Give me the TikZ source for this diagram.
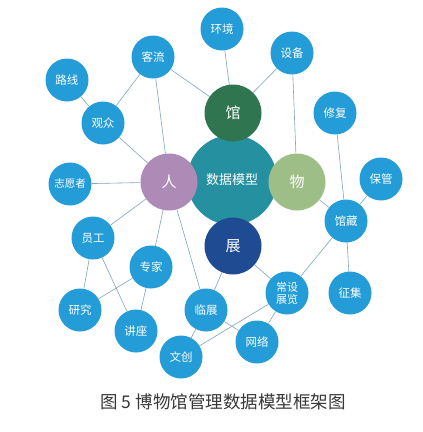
\documentclass[tikz,border=0pt]{standalone}
\usepackage{fontspec}
\usetikzlibrary{backgrounds}
\newfontfamily\cjk{Noto Sans CJK SC}
\definecolor{nodeblue}{HTML}{239CD8}
\definecolor{guangreen}{HTML}{2F7650}
\definecolor{coreteal}{HTML}{2591A0}
\definecolor{renpurple}{HTML}{AE8AB6}
\definecolor{wusage}{HTML}{9EBE87}
\definecolor{zhanblue}{HTML}{1F4B92}
\definecolor{linkgray}{HTML}{7FA7B8}
\definecolor{captiongray}{HTML}{383838}
\begin{document}
\begin{tikzpicture}[x=1pt,y=-1pt,
  leaf/.style={circle,fill=nodeblue,minimum size=43pt,inner sep=0pt,text=white,font=\cjk\fontsize{11.5}{13}\selectfont,align=center},
  hub/.style={circle,minimum size=57pt,inner sep=0pt,text=white,font=\cjk\fontsize{15}{17}\selectfont},
  core/.style={circle,fill=coreteal,minimum size=90pt,inner sep=0pt,text=white,font=\cjk\fontsize{13}{15}\selectfont},
  link/.style={draw=linkgray,line width=0.6pt}]
\useasboundingbox (0,0) rectangle (423,432);
% core and hubs
\node[core] (core) at (232,180) {数据模型};
\node[hub,fill=guangreen] (guan) at (233,113) {馆};
\node[hub,fill=renpurple] (ren) at (169,182) {人};
\node[hub,fill=wusage] (wu) at (297,182) {物};
\node[hub,fill=zhanblue] (zhan) at (233,246) {展};
% leaves
\node[leaf] (keliu) at (153,57) {客流};
\node[leaf] (luxian) at (67,80) {路线};
\node[leaf] (guanzhong) at (103,123) {观众};
\node[leaf] (huanjing) at (222,29) {环境};
\node[leaf] (shebei) at (292,53) {设备};
\node[leaf] (xiufu) at (335,113) {修复};
\node[leaf] (baoguan) at (381,179) {保管};
\node[leaf] (guancang) at (346,221) {馆藏};
\node[leaf] (zhengji) at (350,293) {征集};
\node[leaf,font=\cjk\fontsize{10.5}{12}\selectfont] (zhiyuan) at (70,184) {志愿者};
\node[leaf] (yuangong) at (93,238) {员工};
\node[leaf] (zhuanjia) at (151,267) {专家};
\node[leaf] (yanjiu) at (80,310) {研究};
\node[leaf] (jiangzuo) at (136,331) {讲座};
\node[leaf] (linzhan) at (206,310) {临展};
\node[leaf] (wenchuang) at (181,357) {文创};
\node[leaf,font=\cjk\fontsize{11}{12}\selectfont] (changshe) at (287,293) {常设\\展览};
\node[leaf] (wangluo) at (257,342) {网络};
% caption
\node[text=captiongray,font=\cjk\fontsize{17.5}{19}\selectfont] (caption) at (223,402) {图 5 博物馆管理数据模型框架图};
% links
\begin{scope}[on background layer]
\fill[white] (0,0) rectangle (423,432);
\draw[link] (keliu) -- (guanzhong);
\draw[link] (luxian) -- (guanzhong);
\draw[link] (guanzhong) -- (ren);
\draw[link] (keliu) -- (ren);
\draw[link] (keliu) -- (guan);
\draw[link] (huanjing) -- (guan);
\draw[link] (shebei) -- (guan);
\draw[link] (shebei) -- (wu);
\draw[link] (wu) -- (guancang);
\draw[link] (xiufu) -- (guancang);
\draw[link] (baoguan) -- (guancang);
\draw[link] (guancang) -- (zhengji);
\draw[link] (guancang) -- (changshe);
\draw[link] (zhiyuan) -- (ren);
\draw[link] (yuangong) -- (ren);
\draw[link] (zhuanjia) -- (ren);
\draw[link] (yuangong) -- (yanjiu);
\draw[link] (yuangong) -- (jiangzuo);
\draw[link] (zhuanjia) -- (yanjiu);
\draw[link] (zhuanjia) -- (jiangzuo);
\draw[link] (ren) -- (linzhan);
\draw[link] (zhan) -- (linzhan);
\draw[link] (zhan) -- (changshe);
\draw[link] (linzhan) -- (wangluo);
\draw[link] (wenchuang) -- (linzhan);
\draw[link] (wenchuang) -- (changshe);
\draw[link] (wangluo) -- (changshe);
\end{scope}
\end{tikzpicture}
\end{document}
